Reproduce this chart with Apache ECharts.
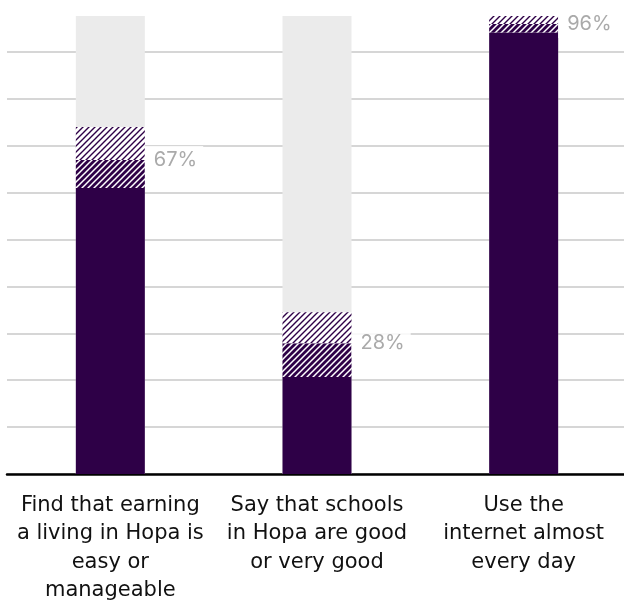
<!DOCTYPE html>
<html>
<head>
<meta charset="utf-8">
<script src="https://cdn.jsdelivr.net/npm/echarts@6/dist/echarts.min.js"></script>
<style>
  html, body { margin: 0; padding: 0; background: #fff; }
  #main { width: 624px; height: 600px; }
</style>
</head>
<body>
<div id="main"></div>
<script>
  var categories = [
    'Find that earning\na living in Hopa is\neasy or\nmanageable',
    'Say that schools\nin Hopa are good\nor very good',
    'Use the\ninternet almost\nevery day'
  ];
  // percent values
  var solidValues = [61, 20.7, 94.2];
  var denseValues = [6, 7.2, 1.8];
  var lightValues = [7, 6.6, 1.7];
  var labelValues = ['67%', '28%', '96%'];
  var axisMax = 97.7;

  var purple = '#2e0047';

  function hatch(bg, fg, lw) {
    var c = document.createElement('canvas');
    c.width = 6; c.height = 6;
    var ctx = c.getContext('2d');
    ctx.fillStyle = bg;
    ctx.fillRect(0, 0, 6, 6);
    ctx.strokeStyle = fg;
    ctx.lineWidth = lw;
    ctx.beginPath();
    ctx.moveTo(-1, 7); ctx.lineTo(7, -1);
    ctx.moveTo(-4, 4); ctx.lineTo(4, -4);
    ctx.moveTo(2, 10); ctx.lineTo(10, 2);
    ctx.stroke();
    return { image: c, repeat: 'repeat' };
  }

  var myChart = echarts.init(document.getElementById('main'));

  var options = {
    backgroundColor: '#ffffff',
    animation: false,
    grid: { left: 7, right: -3, top: 16, bottom: 126, outerBoundsMode: 'none', containLabel: false },
    xAxis: {
      type: 'category',
      data: categories,
      axisTick: { show: false },
      axisLine: { show: true, lineStyle: { color: '#000', width: 2.5 } },
      axisLabel: {
        color: '#111',
        fontFamily: 'DejaVu Sans',
        fontSize: 21,
        lineHeight: 28.5,
        margin: 17,
        interval: 0
      }
    },
    yAxis: {
      type: 'value',
      min: 0,
      max: axisMax,
      interval: 10,
      axisLabel: { show: false },
      axisLine: { show: false },
      axisTick: { show: false },
      splitLine: { showMaxLine: false, lineStyle: { color: '#c8c8c8', width: 1.5 } }
    },
    series: [
      {
        type: 'bar',
        stack: 's',
        barWidth: 69,
        data: solidValues,
        itemStyle: { color: purple },
        showBackground: true,
        backgroundStyle: { color: '#ebebeb' }
      },
      {
        type: 'bar',
        stack: 's',
        data: denseValues,
        itemStyle: { color: hatch(purple, '#ffffff', 1.5) },
        label: {
          show: true,
          position: ['100%', 0],
          align: 'left',
          verticalAlign: 'middle',
          formatter: function (p) { return labelValues[p.dataIndex]; },
          color: '#aaaaaa',
          fontFamily: 'Inter',
          fontSize: 20,
          backgroundColor: 'rgba(255,255,255,0.85)',
          padding: [4, 6, 4, 9]
        }
      },
      {
        type: 'bar',
        stack: 's',
        data: lightValues,
        itemStyle: { color: hatch('#ffffff', purple, 1.4) }
      }
    ]
  };
  myChart.setOption(options);
</script>
</body>
</html>
